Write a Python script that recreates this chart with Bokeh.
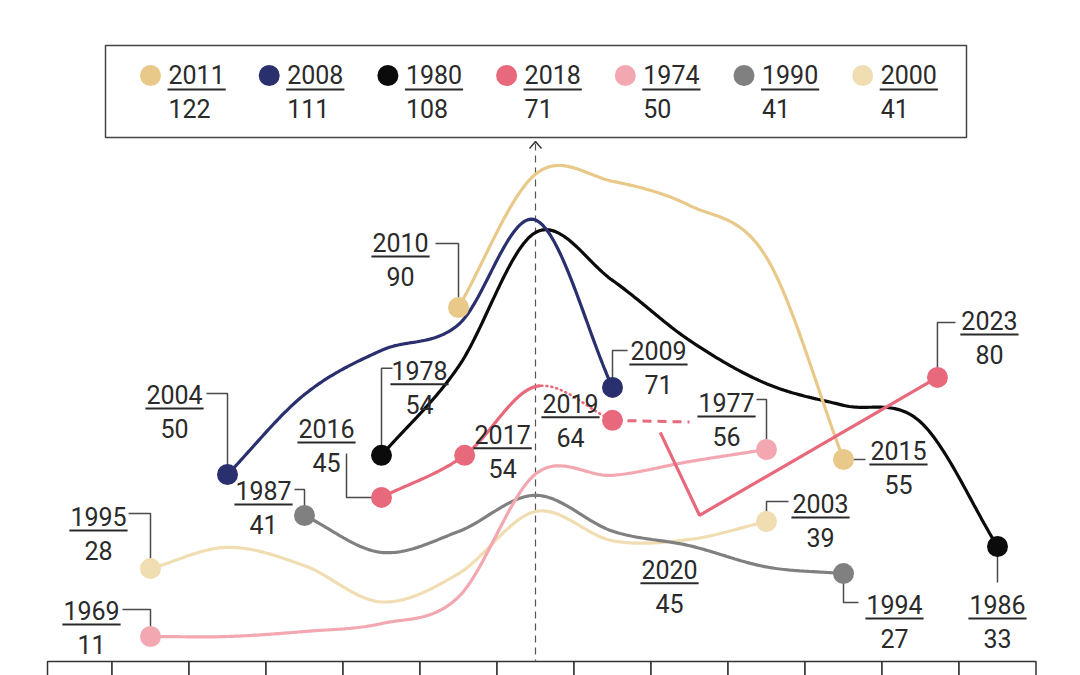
import numpy as np
from bokeh.plotting import figure
from bokeh.models import ColumnDataSource, Range1d
from bokeh.embed import file_html
from bokeh.resources import INLINE
from bokeh.core.properties import value

# ---------------- data ----------------
# legend: peak year of each episode and its peak value
peak_years = ["2011", "2008", "1980", "2018", "1974", "1990", "2000"]
peak_values = ["122", "111", "108", "71", "50", "41", "41"]
colors = ["#E9C98A", "#2A306E", "#0B0B0B", "#E8697B", "#F3A8B1", "#808080", "#F0DDB2"]

# x = years from the peak year, y = level as drawn
x_2011 = [-1, 0, 1, 2, 3, 4]
y_2011 = [90, 122, 120.3, 114.5, 102, 53.5]
x_2008 = [-4, -3, -2, -1, 0, 1]
y_2008 = [49.9, 69.1, 79.7, 85.9, 111, 70.8]
x_1980 = [-2, -1, 0, 1, 2, 3, 4, 5, 6]
y_1980 = [54.5, 75.8, 108, 96.5, 82.1, 71.7, 66.5, 62.5, 32.6]
x_2018 = [-2, -0.92, 0, 1]
y_2018 = [44.4, 54.5, 71, 62.9]
x_2018_gap = [1, 2]
y_2018_gap = [62.9, 62.5]
x_2018_late = [1.62, 2.13, 5.22]
y_2018_late = [60.0, 40.1, 73.2]
x_1974 = [-5, -4, -3, -2, -1, 0, 1, 2, 3]
y_1974 = [11, 11, 12.2, 14.1, 20.5, 50, 49.7, 53.0, 55.9]
x_1990 = [-3, -2, -1, 0, 1, 2, 3, 4]
y_1990 = [40.05, 31.2, 36.2, 44.9, 36.3, 32.8, 27.7, 26.1]
x_2000 = [-5, -4, -3, -2, -1, 0, 1, 2, 3]
y_2000 = [27.3, 32.4, 28, 19.3, 26.1, 41, 34, 34.3, 38.6]

# annotated points
lab_year = ["1995", "1969", "2004", "1987", "1978", "2016", "2010", "2017", "2009",
            "2019", "1977", "2003", "2020", "2015", "2023", "1994", "1986"]
lab_value = ["28", "11", "50", "41", "54", "45", "90", "54", "71",
             "64", "56", "39", "45", "55", "80", "27", "33"]
lab_x = [-5, -5, -4, -3, -2, -2, -1, -0.92, 1, 1, 3, 3, 2.13, 4, 5.22, 4, 6]
lab_y = [27.3, 11, 49.9, 40.05, 54.5, 44.4, 90, 54.5, 70.8, 62.9, 55.9, 38.6, 40.1, 53.5, 73.2, 26.1, 32.6]

# bottom row: one cell per year from the peak
cells = [-6, -5, -4, -3, -2, -1, 0, 1, 2, 3, 4, 5, 6]

# ---------------- layout ----------------
X0PX, XS = 535.0, 77.0      # page px of the peak year, px per year
Y11PX, YS = 636.0, 4.165     # page px of level 11, px per unit


def px_x(px):
    return (px - X0PX) / XS


def px_y(py):
    return 11 + (Y11PX - py) / YS


FONT = "Roboto"
FS = 25
CHAR_W = 0.562 * FS
TXT = "#2a2a2a"
CONN = "#4a4a4a"

# label layout: (year-text centre offset px), connector polyline px (relative to point)
layout = {
    "1995": ((-52, -52), [(-22, -55), (0, -55), (0, 0)]),
    "1969": ((-59, -26), [(-28, -27), (0, -27), (0, 0)]),
    "2004": ((-53, -80), [(-21, -81), (0, -81), (0, 0)]),
    "1987": ((-41, -25), [(-10, -26), (0, -26), (0, 0)]),
    "1978": ((38, -85), [(11, -87), (0, -87), (0, 0)]),
    "2016": ((-55, -69), [(-35, -44), (-35, 0), (0, 0)]),
    "2010": ((-58, -65), [(-23, -64), (0, -64), (0, 0)]),
    "2017": ((38, -21), None),
    "2009": ((46, -37), [(15, -37), (0, -37), (0, 0)]),
    "2019": ((-42, -17), None),
    "1977": ((-40, -47), [(-10, -50), (0, -50), (0, 0)]),
    "2003": ((54, -18), [(22, -20), (0, -20), (0, 0)]),
    "2020": ((-30, 54), None),
    "2015": ((55, -9), [(0, 0), (22, 0)]),
    "2023": ((52, -57), [(18, -55), (0, -55), (0, 0)]),
    "1994": ((51, 31), [(0, 0), (0, 29), (15, 29)]),
    "1986": ((0, 58), [(0, 0), (0, 36)]),
}


def smooth(xs, ys, n=40):
    xs = np.asarray(xs, float)
    ys = np.asarray(ys, float)
    k = len(xs)
    m = np.zeros(k)
    m[0] = (ys[1] - ys[0]) / (xs[1] - xs[0])
    m[-1] = (ys[-1] - ys[-2]) / (xs[-1] - xs[-2])
    for i in range(1, k - 1):
        m[i] = (ys[i + 1] - ys[i - 1]) / (xs[i + 1] - xs[i - 1])
    ox, oy = [], []
    for i in range(k - 1):
        h = xs[i + 1] - xs[i]
        t = np.linspace(0, 1, n)
        h00 = 2 * t**3 - 3 * t**2 + 1
        h10 = t**3 - 2 * t**2 + t
        h01 = -2 * t**3 + 3 * t**2
        h11 = t**3 - t**2
        yy = h00 * ys[i] + h10 * h * m[i] + h01 * ys[i + 1] + h11 * h * m[i + 1]
        xx = xs[i] + t * h
        if i > 0:
            xx, yy = xx[1:], yy[1:]
        ox.extend(xx)
        oy.extend(yy)
    return np.array(ox), np.array(oy)


W, H = 1080, 675
p = figure(width=W, height=H, output_backend="svg", toolbar_location=None,
           x_range=Range1d(px_x(0), px_x(W)), y_range=Range1d(px_y(H), px_y(0)),
           x_axis_type=None, y_axis_type=None, min_border=0,
           min_border_left=0, min_border_right=0, min_border_top=0, min_border_bottom=0)
p.grid.visible = False
p.outline_line_color = None
p.background_fill_color = "white"
p.border_fill_color = "white"

# bottom cells
left_edge = px_x(47)
p.quad(left=[max(c - 0.5, left_edge) for c in cells], right=[c + 0.5 for c in cells],
       top=[px_y(661)] * len(cells), bottom=[px_y(720)] * len(cells),
       fill_color="white", line_color="#333333", line_width=1.5)

# central dashed line + arrow
p.line([0, 0], [px_y(143), px_y(661)], line_color="#555555", line_dash="7 5", line_width=1.2)
p.line([px_x(529), 0, px_x(541)], [px_y(148), px_y(141), px_y(148)], line_color="#333333", line_width=1.4)

# connectors (below lines / points)
for i, yr in enumerate(lab_year):
    off, conn = layout[yr]
    if conn:
        p.line([lab_x[i] + ox / XS for ox, oy in conn], [lab_y[i] - oy / YS for ox, oy in conn],
               line_color=CONN, line_width=1.5)

LW = 3.2
series = [(x_2000, y_2000, 6), (x_1990, y_1990, 5), (x_1974, y_1974, 4),
          (x_1980, y_1980, 2), (x_2008, y_2008, 1), (x_2011, y_2011, 0)]
for xs, ys, ci in series:
    sx, sy = smooth(xs, ys)
    p.line(sx, sy, line_color=colors[ci], line_width=LW, line_cap="round")
    p.scatter([xs[0], xs[-1]], [ys[0], ys[-1]], size=21, fill_color=colors[ci], line_color=None)

# 2018 episode: solid to the peak, dotted to 2019, dashed gap, then solid
c18 = colors[3]
sx, sy = smooth(x_2018, y_2018)
solid = sx <= 0.06
p.line(sx[solid], sy[solid], line_color=c18, line_width=LW, line_cap="round")
p.line(sx[~solid], sy[~solid], line_color=c18, line_width=2.6, line_dash="1 4", line_cap="round")
p.line(x_2018_gap, y_2018_gap, line_color=c18, line_width=3, line_dash="9 6")
p.line(x_2018_late, y_2018_late, line_color=c18, line_width=LW)
p.scatter([x_2018[0], x_2018[1], x_2018[3], x_2018_late[-1]],
          [y_2018[0], y_2018[1], y_2018[3], y_2018_late[-1]],
          size=21, fill_color=c18, line_color=None)

# point labels
yt = dict(x=[], y=[], t=[], xo=[], yo=[])
vt = dict(x=[], y=[], t=[], xo=[], yo=[])
ul_x0, ul_x1, ul_y = [], [], []
for i, yr in enumerate(lab_year):
    (dx, dy), _ = layout[yr]
    yt["x"].append(lab_x[i]); yt["y"].append(lab_y[i]); yt["t"].append(yr)
    yt["xo"].append(dx); yt["yo"].append(dy)
    vt["x"].append(lab_x[i]); vt["y"].append(lab_y[i]); vt["t"].append(lab_value[i])
    vt["xo"].append(dx); vt["yo"].append(dy + 34)
    w = len(yr) * CHAR_W + 2
    ul_x0.append(lab_x[i] + (dx - w / 2) / XS)
    ul_x1.append(lab_x[i] + (dx + w / 2) / XS)
    ul_y.append(lab_y[i] - (dy + 14) / YS)

for d in (yt, vt):
    p.text(x="x", y="y", text="t", x_offset="xo", y_offset="yo", source=ColumnDataSource(d),
           text_font=value(FONT), text_font_size=f"{FS}px", text_color=TXT,
           text_align="center", text_baseline="middle")
p.segment(x0=ul_x0, y0=ul_y, x1=ul_x1, y1=ul_y, line_color=TXT, line_width=2)

# legend box
p.quad(left=[px_x(105)], right=[px_x(966)], top=[px_y(45)], bottom=[px_y(137)],
       fill_color="white", line_color="#444444", line_width=1.5)
LEG_X0, LEG_DX = 150.0, 118.7
cx = [px_x(LEG_X0 + i * LEG_DX) for i in range(len(peak_years))]
p.scatter(cx, [px_y(75)] * len(cx), size=21, fill_color=colors, line_color=None)
p.text(x=cx, y=[px_y(74)] * len(cx), text=peak_years, x_offset=18, y_offset=0,
       text_font=value(FONT), text_font_size=f"{FS}px", text_color=TXT,
       text_align="left", text_baseline="middle")
p.text(x=cx, y=[px_y(108)] * len(cx), text=peak_values, x_offset=18, y_offset=0,
       text_font=value(FONT), text_font_size=f"{FS}px", text_color=TXT,
       text_align="left", text_baseline="middle")
wl = 4 * CHAR_W + 2
p.segment(x0=[c + 17 / XS for c in cx], y0=[px_y(89)] * len(cx),
          x1=[c + (17 + wl) / XS for c in cx], y1=[px_y(89)] * len(cx),
          line_color=TXT, line_width=2)

open("out.html", "w").write(file_html(p, INLINE))
